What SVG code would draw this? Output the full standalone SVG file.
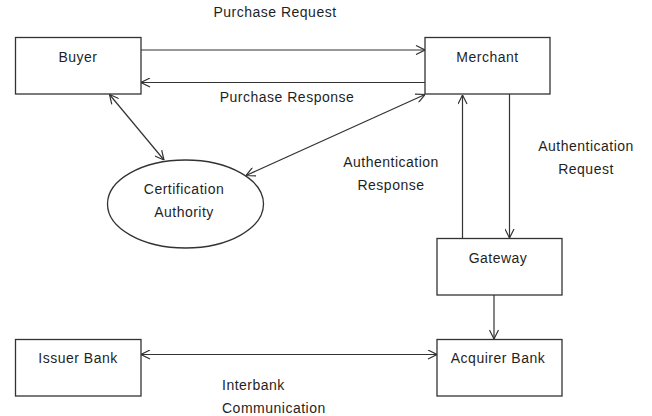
<svg xmlns="http://www.w3.org/2000/svg" width="652" height="416" viewBox="0 0 652 416">
<defs>
<marker id="ah" viewBox="0 0 10 10" refX="10" refY="5" markerWidth="10" markerHeight="10" markerUnits="userSpaceOnUse" orient="auto-start-reverse">
<path d="M1,0.5 L10,5 L1,9.5" fill="none" stroke="#333" stroke-width="1.2"/>
</marker>
</defs>
<style>
.box{fill:#fff;stroke:#333;stroke-width:1.3}
.t{font-family:"Liberation Sans",Arial,sans-serif;font-size:14px;letter-spacing:0.5px;fill:#1f1f1f}
.c{text-anchor:middle}
.ln{stroke:#333;stroke-width:1.2;fill:none}
</style>
<rect width="652" height="416" fill="#fff"/>
<g id="connectors">
<line class="ln" x1="141" y1="50" x2="425" y2="50" marker-end="url(#ah)"/>
<line class="ln" x1="425" y1="82.5" x2="141" y2="82.5" marker-end="url(#ah)"/>
<line class="ln" x1="109.5" y1="94.5" x2="164" y2="160" marker-start="url(#ah)" marker-end="url(#ah)"/>
<line class="ln" x1="425" y1="94.5" x2="246" y2="175.5" marker-start="url(#ah)" marker-end="url(#ah)"/>
<line class="ln" x1="462.5" y1="238" x2="462.5" y2="95" marker-end="url(#ah)"/>
<line class="ln" x1="509.5" y1="94" x2="509.5" y2="238" marker-end="url(#ah)"/>
<line class="ln" x1="494" y1="295" x2="494" y2="339" marker-end="url(#ah)"/>
<line class="ln" x1="141" y1="354.5" x2="437" y2="354.5" marker-start="url(#ah)" marker-end="url(#ah)"/>
<text class="t" x="275" y="17" text-anchor="middle">Purchase Request</text>
<text class="t" x="287" y="102" text-anchor="middle">Purchase Response</text>
<text class="t" x="391" y="167" text-anchor="middle">Authentication</text>
<text class="t" x="391" y="190" text-anchor="middle">Response</text>
<text class="t" x="586" y="151" text-anchor="middle">Authentication</text>
<text class="t" x="586" y="174" text-anchor="middle">Request</text>
<text class="t" x="222" y="390">Interbank</text>
<text class="t" x="222" y="413">Communication</text>
</g>
<g id="buyer">
<rect class="box" x="15.5" y="37.5" width="125.5" height="56.5"/>
<text class="t c" x="78" y="62">Buyer</text>
</g>
<g id="merchant">
<rect class="box" x="425" y="37.5" width="125" height="56.5"/>
<text class="t c" x="487.5" y="62">Merchant</text>
</g>
<g id="ca">
<ellipse cx="185.5" cy="204" rx="78" ry="44" fill="#fff" stroke="#333" stroke-width="1.3"/>
<text class="t c" x="184" y="194">Certification</text>
<text class="t c" x="184" y="217">Authority</text>
</g>
<g id="gateway">
<rect class="box" x="437" y="238.5" width="125" height="56.5"/>
<text class="t c" x="498" y="263">Gateway</text>
</g>
<g id="acquirer">
<rect class="box" x="437" y="339.5" width="125" height="56.5"/>
<text class="t c" x="498" y="363">Acquirer Bank</text>
</g>
<g id="issuer">
<rect class="box" x="15.5" y="339.5" width="125.5" height="56.5"/>
<text class="t c" x="78" y="363">Issuer Bank</text>
</g>
</svg>
